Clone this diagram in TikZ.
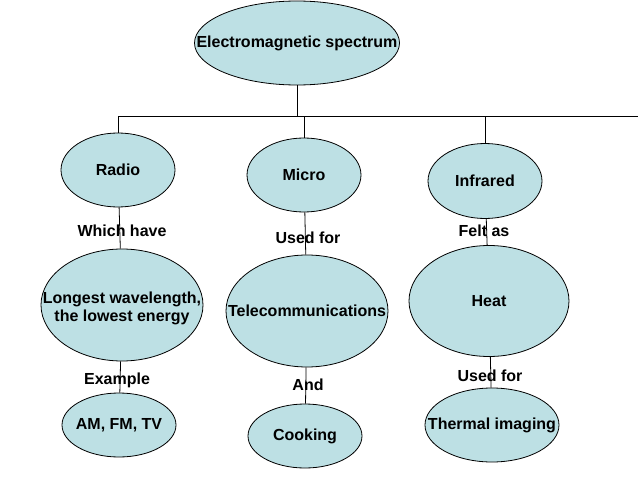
\documentclass[tikz,border=0pt]{standalone}
\usepackage{fontspec}
\setmainfont{Liberation Sans}
\usetikzlibrary{shapes.geometric}
\definecolor{bubble}{RGB}{189,224,228}
\tikzset{
  txt/.style={inner sep=0pt, align=center, font=\fontsize{16}{18}\selectfont\bfseries},
  bub/.style={ellipse, draw=black, fill=bubble, line width=0.8pt, inner sep=0pt},
  lbl/.style={inner sep=0pt, font=\fontsize{16}{18}\selectfont\bfseries},
  conn/.style={draw=black, line width=0.8pt}
}
\begin{document}
\begin{tikzpicture}[x=1pt,y=-1pt]
\useasboundingbox (0,0) rectangle (638,479);
\node[bub, minimum width=205, minimum height=84, label={[txt]center:Electromagnetic spectrum}] (em) at (297,43) {};
\node[bub, minimum width=114, minimum height=74, label={[txt]center:Radio}] (radio) at (118,170) {};
\node[bub, minimum width=162, minimum height=112, label={[txt, yshift=-3pt]center:Longest wavelength,\\ the lowest energy}] (long) at (122,305) {};
\node[bub, minimum width=114, minimum height=64, label={[txt]center:AM, FM, TV}] (am) at (119,425) {};
\node[bub, minimum width=114, minimum height=74, label={[txt]center:Micro}] (micro) at (304,175) {};
\node[bub, minimum width=162, minimum height=112, label={[txt]center:Telecommunications}] (tele) at (307,311) {};
\node[bub, minimum width=114, minimum height=64, label={[txt]center:Cooking}] (cook) at (305,436) {};
\node[bub, minimum width=114, minimum height=75, label={[txt]center:Infrared}] (ir) at (485,181) {};
\node[bub, minimum width=160, minimum height=111, label={[txt]center:Heat}] (heat) at (489,301) {};
\node[bub, minimum width=134, minimum height=74, label={[txt]center:Thermal imaging}] (therm) at (492,425) {};
\coordinate (bar) at (297,116);
\coordinate (barend) at (638,116);
\draw[conn] (em.south) -- (bar);
\draw[conn] (radio.north |- bar) -- (barend);
\draw[conn] (radio.north |- bar) -- (radio.north);
\draw[conn] (micro.north |- bar) -- (micro.north);
\draw[conn] (ir.north |- bar) -- (ir.north);
\draw[conn] (radio) -- (long);
\draw[conn] (long) -- (am);
\draw[conn] (micro) -- (tele);
\draw[conn] (tele) -- (cook);
\draw[conn] (ir) -- (heat);
\draw[conn] (heat) -- (therm);
\node[lbl] (l1) at (122,231) {Which have};
\node[lbl] (l2) at (117,380) {Example};
\node[lbl] (l3) at (308,238) {Used for};
\node[lbl] (l4) at (308,385) {And};
\node[lbl] (l5) at (484,231) {Felt as};
\node[lbl] (l6) at (490,376) {Used for};
\end{tikzpicture}
\end{document}
